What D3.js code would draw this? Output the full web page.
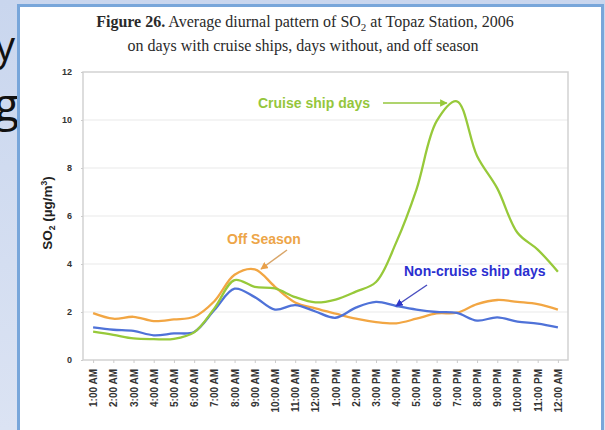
<!DOCTYPE html>
<html>
<head>
<meta charset="utf-8">
<script src="https://cdn.jsdelivr.net/npm/d3@7"></script>
<style>
  body { margin: 0; background: #d3def2; }
  svg { display: block; }
  .tick text { font-family: "Liberation Sans", Arial, sans-serif; font-weight: bold; fill: #333; }
</style>
</head>
<body>
<script>
//SO2 diurnal pattern chart, Topaz Station 2006

//hour labels along the x axis
var hours = ["1:00 AM", "2:00 AM", "3:00 AM", "4:00 AM", "5:00 AM", "6:00 AM",
    "7:00 AM", "8:00 AM", "9:00 AM", "10:00 AM", "11:00 AM", "12:00 PM",
    "1:00 PM", "2:00 PM", "3:00 PM", "4:00 PM", "5:00 PM", "6:00 PM",
    "7:00 PM", "8:00 PM", "9:00 PM", "10:00 PM", "11:00 PM", "12:00 AM"];

//series values (ug/m3)
var cruiseDays = [1.18, 1.05, 0.9, 0.87, 0.88, 1.15, 2.15, 3.33, 3.05, 2.98, 2.62, 2.4,
    2.52, 2.85, 3.25, 4.9, 7.1, 9.95, 10.78, 8.5, 7.15, 5.3, 4.6, 3.68];
var nonCruiseDays = [1.36, 1.26, 1.21, 1.03, 1.11, 1.17, 2.08, 2.97, 2.62, 2.1, 2.29, 2.02,
    1.76, 2.18, 2.42, 2.25, 2.1, 2.0, 1.96, 1.64, 1.78, 1.6, 1.52, 1.36];
var offSeason = [1.95, 1.72, 1.8, 1.62, 1.69, 1.8, 2.45, 3.55, 3.78, 3.05, 2.4, 2.15,
    1.93, 1.72, 1.58, 1.53, 1.72, 1.94, 1.97, 2.33, 2.5, 2.42, 2.33, 2.1];

var yTicks = [0, 2, 4, 6, 8, 10, 12];

var width = 605,
    height = 430;

var svg = d3.select("body")
    .append("svg")
    .attr("width", width)
    .attr("height", height);

//slide background strip with gradient
var defs = svg.append("defs");
var grad = defs.append("linearGradient")
    .attr("id", "bg")
    .attr("x1", 0).attr("y1", 0).attr("x2", 0).attr("y2", 1);
grad.append("stop").attr("offset", "0%").attr("stop-color", "#c9d6ee");
grad.append("stop").attr("offset", "100%").attr("stop-color", "#dbe3f3");

svg.append("rect")
    .attr("width", width)
    .attr("height", height)
    .attr("fill", "url(#bg)");

//bits of the slide text peeking out on the left (cut off as in the slide)
svg.append("text")
    .attr("x", 15)
    .attr("y", 60)
    .attr("text-anchor", "end")
    .style("font-family", "'Open Sans', sans-serif")
    .style("font-size", "40px")
    .attr("fill", "#111")
    .text("y");
svg.append("text")
    .attr("x", -6)
    .attr("y", 121)
    .style("font-family", "'Open Sans', sans-serif")
    .style("font-size", "46px")
    .attr("fill", "#111")
    .text("g");

//white panel with blue border
svg.append("rect")
    .attr("x", 18.5)
    .attr("y", 5.5)
    .attr("width", 584)
    .attr("height", 500)
    .attr("fill", "#fff")
    .attr("stroke", "#78a6da")
    .attr("stroke-width", 3);

//title
var title = svg.append("text")
    .attr("x", 305)
    .attr("y", 27)
    .attr("text-anchor", "middle")
    .style("font-family", "'Liberation Serif', 'Times New Roman', serif")
    .style("font-size", "16px")
    .attr("fill", "#2a2a2a");
title.append("tspan").style("font-weight", "bold").text("Figure 26.");
title.append("tspan").text(" Average diurnal pattern of SO");
title.append("tspan").attr("dy", 4).style("font-size", "11px").text("2");
title.append("tspan").attr("dy", -4).text(" at Topaz Station, 2006");

svg.append("text")
    .attr("x", 303)
    .attr("y", 51)
    .attr("text-anchor", "middle")
    .style("font-family", "'Liberation Serif', 'Times New Roman', serif")
    .style("font-size", "16px")
    .attr("fill", "#2a2a2a")
    .text("on days with cruise ships, days without, and off season");

//plot area
var plot = {left: 83, right: 568, top: 72, bottom: 360};

var x = d3.scalePoint()
    .domain(hours)
    .range([plot.left, plot.right])
    .padding(0.5);

var y = d3.scaleLinear()
    .domain([0, 12])
    .range([plot.bottom, plot.top]);

//faint gridlines
svg.append("g")
    .selectAll("line")
    .data(yTicks.slice(1, -1))
    .enter()
    .append("line")
    .attr("x1", plot.left)
    .attr("x2", plot.right)
    .attr("y1", function(d){ return y(d); })
    .attr("y2", function(d){ return y(d); })
    .attr("stroke", "#f1f1f1")
    .attr("stroke-width", 1.5);

//frame
svg.append("rect")
    .attr("x", plot.left)
    .attr("y", plot.top)
    .attr("width", plot.right - plot.left)
    .attr("height", plot.bottom - plot.top)
    .attr("fill", "none")
    .attr("stroke", "#d2d2d2")
    .attr("stroke-width", 1.5);

//y axis
var yAxis = svg.append("g")
    .attr("transform", "translate(" + plot.left + ",0)")
    .call(d3.axisLeft(y).tickValues(yTicks).tickSize(2).tickPadding(9));
yAxis.select(".domain").remove();
yAxis.selectAll(".tick line").attr("stroke", "#ccc");
yAxis.selectAll(".tick text").style("font-size", "9px");

//x axis with rotated labels
var xAxis = svg.append("g")
    .attr("transform", "translate(0," + plot.bottom + ")")
    .call(d3.axisBottom(x).tickSize(3).tickPadding(0));
xAxis.select(".domain").remove();
xAxis.selectAll(".tick line").attr("stroke", "#ccc");
xAxis.selectAll(".tick text")
    .style("font-size", "10px")
    .attr("fill", "#3a3a3a")
    .attr("text-anchor", "end")
    .attr("transform", "rotate(-90)")
    .attr("x", -9)
    .attr("y", 0)
    .attr("dy", "0.35em");

//y axis title
var yTitle = svg.append("text")
    .attr("transform", "translate(52,213) rotate(-90)")
    .attr("text-anchor", "middle")
    .style("font-family", "'Liberation Sans', Arial, sans-serif")
    .style("font-weight", "bold")
    .style("font-size", "13.5px")
    .attr("fill", "#222");
yTitle.append("tspan").text("SO");
yTitle.append("tspan").attr("dy", 3).style("font-size", "8.5px").text("2");
yTitle.append("tspan").attr("dy", -3).text(" (\u00b5g/m");
yTitle.append("tspan").attr("dy", -5).style("font-size", "8.5px").text("3");
yTitle.append("tspan").attr("dy", 5).text(")");

//series lines
var series = [
    {name: "Off Season", values: offSeason, color: "#f2a643"},
    {name: "Non-cruise ship days", values: nonCruiseDays, color: "#4f72d8"},
    {name: "Cruise ship days", values: cruiseDays, color: "#97c93a"}
];

var line = d3.line()
    .x(function(d, i){ return x(hours[i]); })
    .y(function(d){ return y(d); })
    .curve(d3.curveCatmullRom.alpha(0.5));

svg.append("g")
    .selectAll("path")
    .data(series)
    .enter()
    .append("path")
    .attr("d", function(d){ return line(d.values); })
    .attr("fill", "none")
    .attr("stroke", function(d){ return d.color; })
    .attr("stroke-width", 2.3)
    .attr("stroke-linejoin", "round");

//annotations with arrows
function addMarker(id, color){
    defs.append("marker")
        .attr("id", id)
        .attr("viewBox", "0 0 10 10")
        .attr("refX", 9)
        .attr("refY", 5)
        .attr("markerWidth", 5)
        .attr("markerHeight", 5)
        .attr("orient", "auto")
        .append("path")
        .attr("d", "M0,0L10,5L0,10z")
        .attr("fill", color);
}
addMarker("arGreen", "#97c93a");
addMarker("arOrange", "#e9a049");
addMarker("arBlue", "#2f36c8");

function annotate(label, tx, ty, color, arrowColor, marker, x1, y1, x2, y2){
    svg.append("text")
        .attr("x", tx)
        .attr("y", ty)
        .style("font-family", "'Liberation Sans', Arial, sans-serif")
        .style("font-weight", "bold")
        .style("font-size", "14px")
        .attr("fill", color)
        .text(label);
    svg.append("line")
        .attr("x1", x1).attr("y1", y1)
        .attr("x2", x2).attr("y2", y2)
        .attr("stroke", arrowColor)
        .attr("stroke-width", 1.5)
        .attr("marker-end", "url(#" + marker + ")");
}

annotate("Cruise ship days", 258, 108, "#95c63c", "#95c63c", "arGreen",
    383, 103, x("7:00 PM") - 10, 103);
annotate("Off Season", 227, 244, "#eda548", "#d9a66a", "arOrange",
    287, 250, 261, 269);
annotate("Non-cruise ship days", 404, 276, "#2b2fd0", "#4a4fc0", "arBlue",
    427, 285, 396, 306);
</script>
</body>
</html>
